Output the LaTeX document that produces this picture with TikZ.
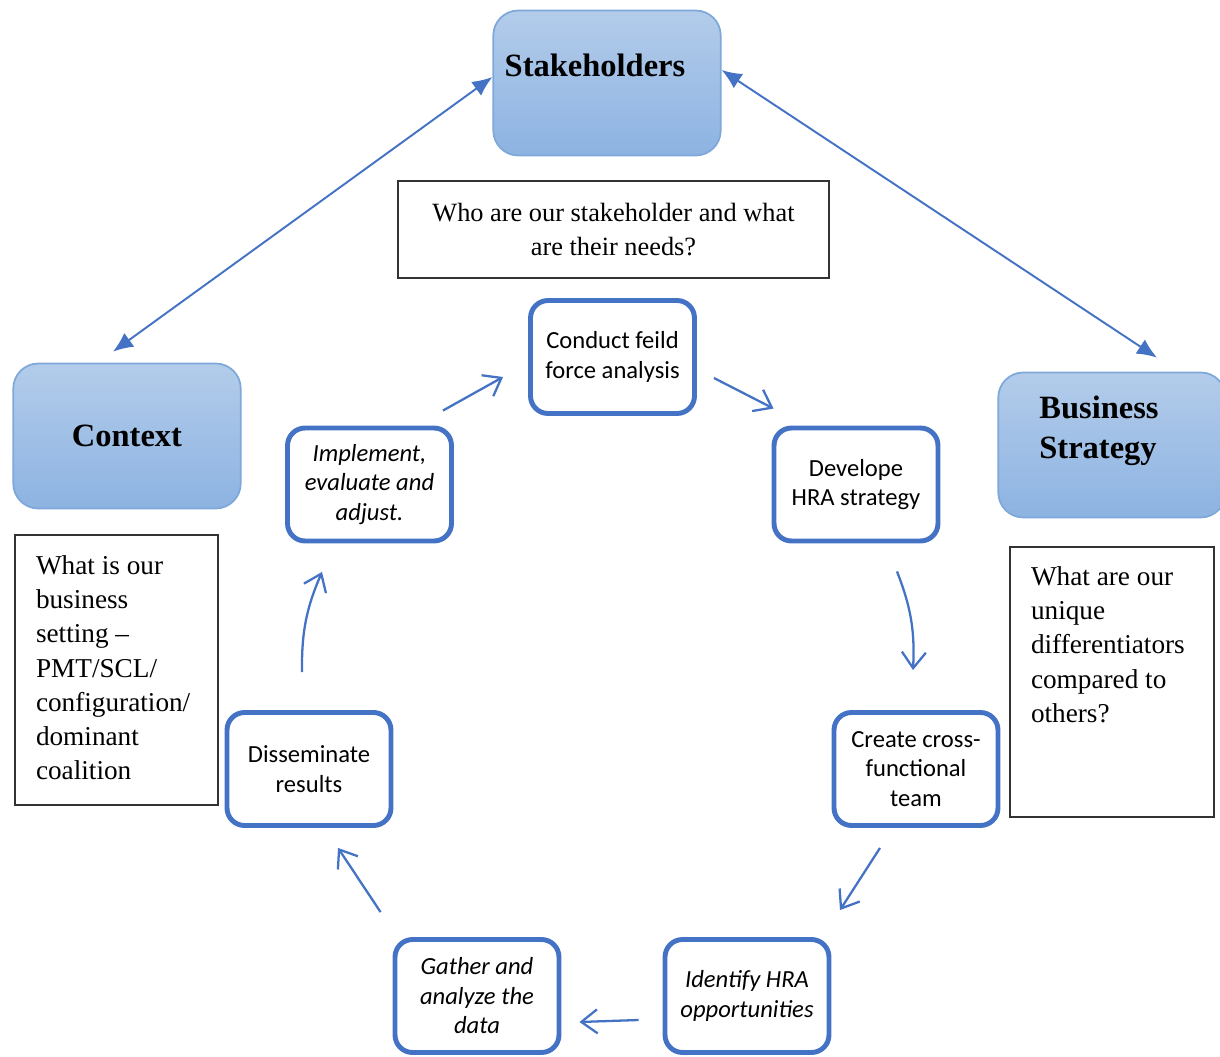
\documentclass[tikz,border=0pt]{standalone}
\usepackage{fontspec}
\setmainfont{Liberation Serif}
\newfontfamily\calfont{Carlito}
\usetikzlibrary{arrows.meta,calc,positioning}
\definecolor{cycblue}{HTML}{4472C4}
\definecolor{pantop}{HTML}{B3CCEA}
\definecolor{panbot}{HTML}{8DB3E2}
\definecolor{panedge}{HTML}{7EA8DA}

\tikzset{
  panel/.style={draw=panedge, line width=1pt, rounded corners=0.5cm,
    top color=pantop, bottom color=panbot,
    minimum width=4.55cm, minimum height=2.9cm},
  paneltext/.style={font=\fontsize{18.5}{23}\selectfont\bfseries, align=left},
  askbox/.style={draw=black!80, line width=0.8pt, inner xsep=0.42cm,
    inner ysep=0.25cm, font=\fontsize{15.5}{19.5}\selectfont},
  stepbox/.style={draw=cycblue, line width=2.8pt, rounded corners=0.35cm,
    fill=white, minimum width=3.28cm, minimum height=2.26cm, align=center,
    font=\calfont\fontsize{14}{16.8}\selectfont},
  cyc/.style={draw=cycblue, line width=1.3pt,
    -{Straight Barb[length=3.2mm,width=4.8mm]}},
  link/.style={draw=cycblue, line width=1.1pt,
    {Latex[length=4mm,width=3.4mm]}-{Latex[length=4mm,width=3.4mm]}}
}

\begin{document}
\begin{tikzpicture}[x=0.02cm, y=-0.02cm]
    \useasboundingbox (0,0) rectangle (1220,1057);

    % Outer panels
    \node[panel, label={[paneltext, shift={(-12,-18)}]center:Stakeholders}] (stake) at (607,83) {};
    \node[panel, paneltext, align=center] (context) at (127,436) {Context};
    \node[panel, label={[paneltext, shift={(-13,-14)}]center:Business\\Strategy}] (strat) at (1112,445) {};

    % Questions
    \node[askbox, align=center, minimum width=8.62cm, minimum height=1.94cm,
      font=\fontsize{15}{19.8}\selectfont] (askstake) at (613.5,229.5)
      {Who are our stakeholder and what\\are their needs?};
    \node[askbox] (askcontext) at (116.5,670)
      {\parbox[c][4.9cm][t]{3.22cm}{\vspace*{0.16cm}\raggedright What is our\\business\\setting --\\PMT/SCL/\\configuration/\\dominant\\coalition}};
    \node[askbox] (askstrat) at (1112,682)
      {\parbox[c][4.9cm][t]{3.24cm}{\vspace*{0.14cm}\raggedright What are our\\unique\\differentiators\\compared to\\others?}};

    % Cycle steps
    \node[stepbox] (conduct) at (612.5,357) {Conduct feild\\force analysis};
    \node[stepbox] (develope) at (856,484.5) {Develope\\HRA strategy};
    \node[stepbox] (create) at (916,769) {Create cross-\\functional\\team};
    \node[stepbox, font=\calfont\itshape\fontsize{14}{16.8}\selectfont] (identify) at (747,996) {Identify HRA\\opportunities};
    \node[stepbox, font=\calfont\itshape\fontsize{14}{16.8}\selectfont] (gather) at (477,996) {Gather and\\analyze the\\data};
    \node[stepbox] (dissem) at (309,769) {Disseminate\\results};
    \node[stepbox, font=\calfont\itshape\fontsize{14}{16.8}\selectfont] (impl) at (369.5,484.5) {Implement,\\evaluate and\\adjust.};

    % Links to stakeholders
    \draw[link] ($(stake.west)+(0,-6)$) -- ($(context.north)+(-14,-11)$);
    \draw[link] ($(stake.east)+(0,-13)$) -- ($(strat.north)+(45,-14)$);

    % Cycle arrows
    \draw[cyc] ($(impl.north east)+(-11,-15)$) -- ($(conduct.west)+(-25,20)$);
    \draw[cyc] ($(conduct.east)+(17,21)$) -- ($(develope.north west)+(2,-17)$);
    \draw[cyc] ($(develope.south)+(41,28)$) to[bend left=12] ($(create.north)+(-3,-40)$);
    \draw[cyc] ($(create.south)+(-36,20)$) -- ($(identify.north)+(93,-27)$);
    \draw[cyc] ($(identify.west)+(-24,24)$) -- ($(gather.east)+(18,26)$);
    \draw[cyc] ($(gather.north west)+(-12,-25)$) -- ($(dissem.south)+(29,20)$);
    \draw[cyc] ($(dissem.north)+(-7,-38)$) to[bend left=12] ($(impl.south)+(-47.5,28.5)$);
\end{tikzpicture}
\end{document}
